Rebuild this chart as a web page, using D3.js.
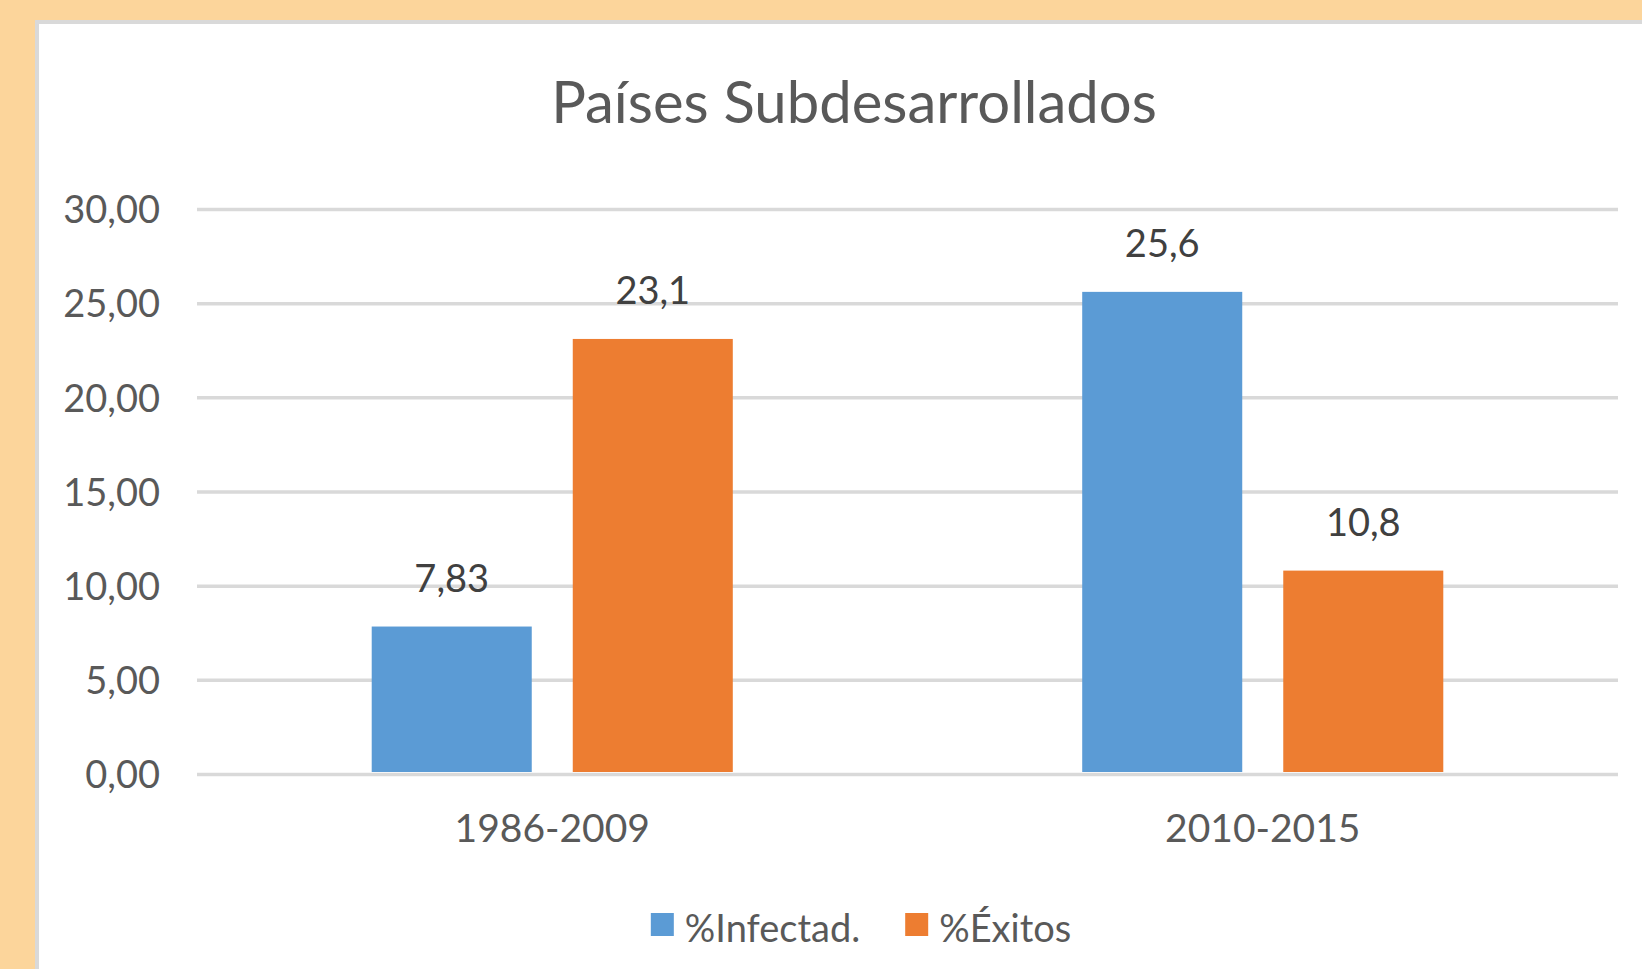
<!doctype html>
<html>
<head>
<meta charset="utf-8">
<script src="https://d3js.org/d3.v7.min.js"></script>
<style>
body { margin: 0; background: #fcd59b; }
svg { display: block; font-family: Lato, "Open Sans", sans-serif; }
</style>
</head>
<body>
<script>
// data
var categories = ['1986-2009', '2010-2015'];
var seriesNames = ['%Infectad.', '%Éxitos'];
var infectados = [7.83, 25.6];
var exitos = [23.1, 10.8];
var yTicks = [0, 5, 10, 15, 20, 25, 30];
var chartTitle = 'Países Subdesarrollados';
var colors = ['#5b9bd5', '#ed7d31'];

var W = 1642, H = 969;
var plot = {left: 197, right: 1618, top: 209, bottom: 774};

var svg = d3.select('body').append('svg').attr('width', W).attr('height', H);

// frame: orange page, grey edge, white chart area
svg.append('rect').attr('width', W).attr('height', H).attr('fill', '#fcd59b');
svg.append('rect').attr('x', 35).attr('y', 20).attr('width', W - 35).attr('height', H - 20).attr('fill', '#d9d9d9');
svg.append('rect').attr('x', 39).attr('y', 24).attr('width', W - 39).attr('height', H - 24).attr('fill', '#ffffff');

var locale = d3.formatLocale({decimal: ',', thousands: '.', grouping: [3], currency: ['', '€']});
var fmt2 = locale.format('.2f');

var yScale = d3.scaleLinear().domain([0, 30]).range([plot.bottom, plot.top]);
var x0 = d3.scaleBand().domain(categories).range([plot.left, plot.right]).padding(0);
var x1 = d3.scaleBand().domain(seriesNames).range([0, x0.bandwidth()])
	.paddingInner(0.204).paddingOuter(0.869);

// title
svg.append('text')
	.attr('x', 854).attr('y', 123)
	.attr('text-anchor', 'middle')
	.attr('fill', '#595959')
	.style('font-size', '58px')
	.text(chartTitle);

// y axis with gridlines
var yAxis = d3.axisLeft(yScale).tickValues(yTicks).tickFormat(fmt2)
	.tickSizeInner(-(plot.right - plot.left)).tickSizeOuter(0).tickPadding(37);
var yG = svg.append('g').attr('transform', 'translate(' + plot.left + ',0)').call(yAxis);
yG.select('.domain').remove();
yG.selectAll('.tick line').attr('stroke', '#d9d9d9').attr('stroke-width', 3.5);
yG.selectAll('.tick text').attr('fill', '#595959').style('font-size', '38px')
	.style('font-family', 'Lato, "Open Sans", sans-serif').attr('dy', '0.36em');

// bars
var rows = categories.map(function(c, i) {
	return {cat: c, values: [infectados[i], exitos[i]]};
});
var groups = svg.append('g').selectAll('g').data(rows).enter().append('g')
	.attr('transform', function(d) { return 'translate(' + x0(d.cat) + ',0)'; });

groups.selectAll('rect').data(function(d) {
	return d.values.map(function(v, j) { return {name: seriesNames[j], value: v, k: j}; });
}).enter().append('rect')
	.attr('x', function(d) { return x1(d.name); })
	.attr('y', function(d) { return yScale(d.value); })
	.attr('width', x1.bandwidth())
	.attr('height', function(d) { return plot.bottom - 2 - yScale(d.value); })
	.attr('fill', function(d) { return colors[d.k]; });

// value labels
groups.selectAll('text.val').data(function(d) {
	return d.values.map(function(v, j) { return {name: seriesNames[j], value: v}; });
}).enter().append('text')
	.attr('class', 'val')
	.attr('x', function(d) { return x1(d.name) + x1.bandwidth() / 2; })
	.attr('y', function(d) { return yScale(d.value) - 35; })
	.attr('text-anchor', 'middle')
	.attr('fill', '#404040')
	.style('font-size', '38px')
	.text(function(d) { return String(d.value).replace('.', ','); });

// category labels
var xAxis = d3.axisBottom(x0).tickSize(0).tickPadding(0);
var xG = svg.append('g').attr('transform', 'translate(0,' + plot.bottom + ')').call(xAxis);
xG.select('.domain').remove();
xG.selectAll('.tick text').attr('fill', '#595959').attr('dy', null).attr('y', 842 - plot.bottom)
	.style('font-size', '39px').style('font-family', 'Lato, "Open Sans", sans-serif');

// legend
var legend = svg.append('g');
var lx = 0;
seriesNames.forEach(function(name, i) {
	legend.append('rect').attr('x', lx).attr('y', 913).attr('width', 23).attr('height', 23).attr('fill', colors[i]);
	var t = legend.append('text').attr('x', lx + 34).attr('y', 942)
		.attr('fill', '#595959').style('font-size', '38px').text(name);
	lx += 34 + t.node().getComputedTextLength() + 45;
});
var legendW = lx - 45;
legend.attr('transform', 'translate(' + (861 - legendW / 2) + ',0)');
</script>
</body>
</html>
